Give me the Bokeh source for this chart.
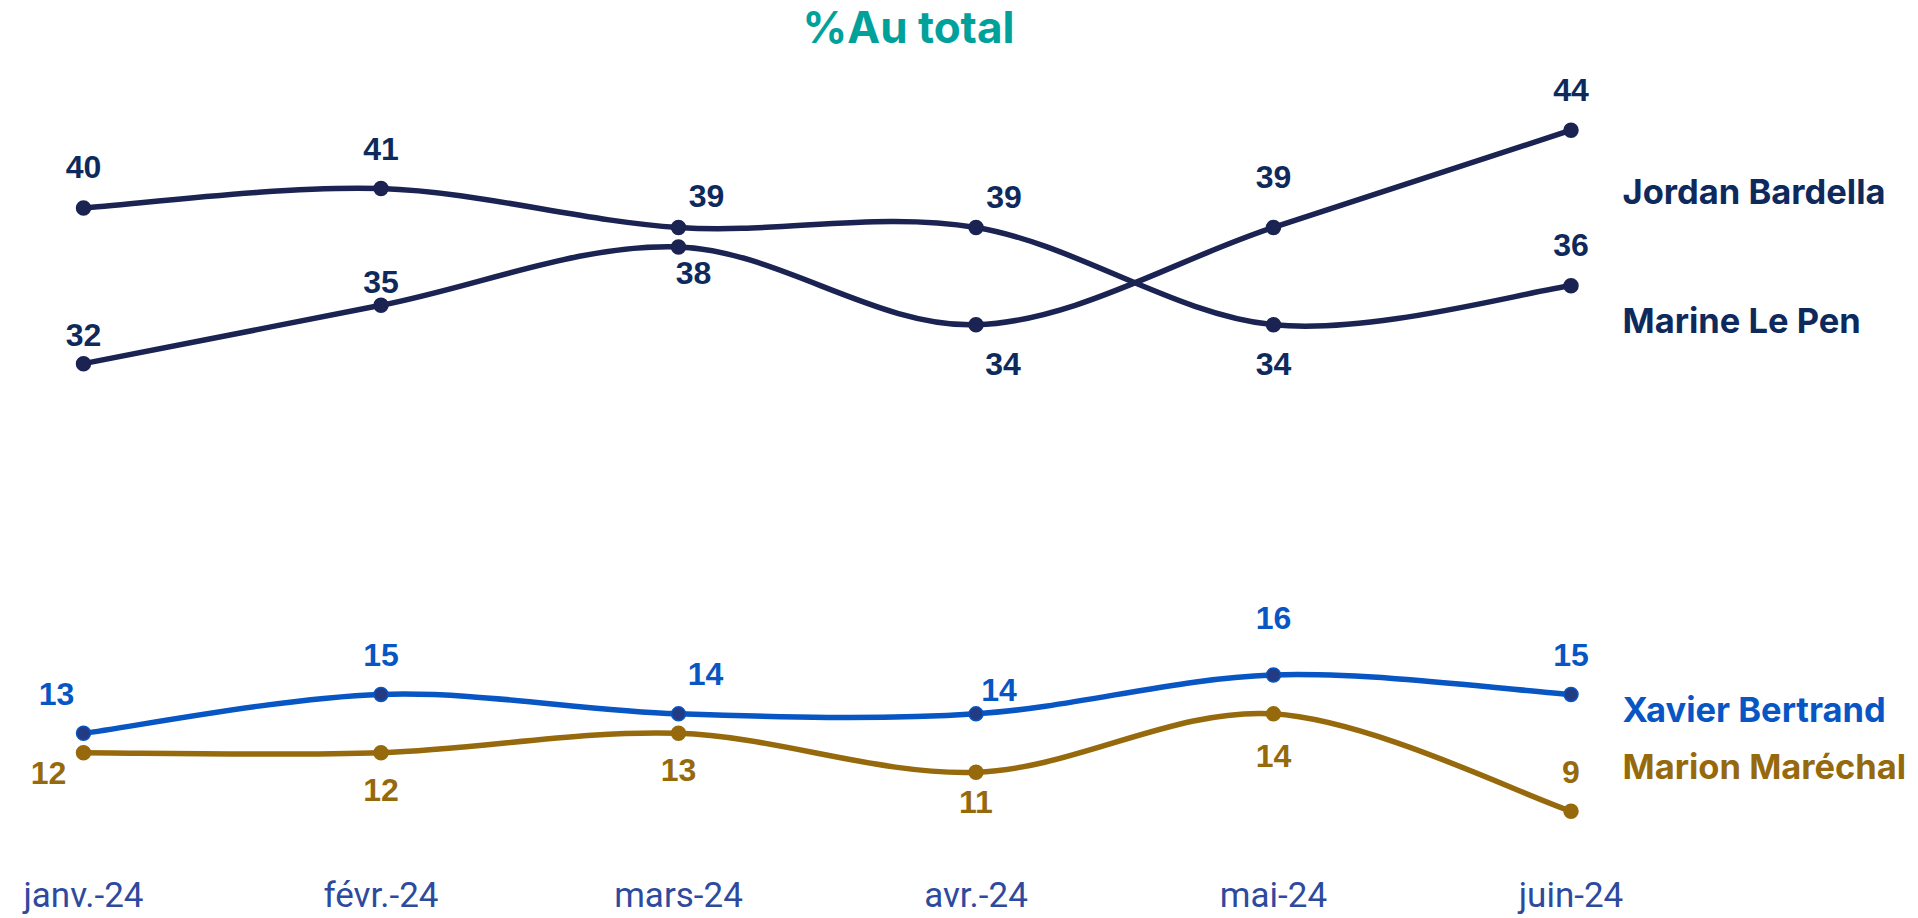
from bokeh.plotting import figure
from bokeh.models import ColumnDataSource, Label, FixedTicker, Range1d
from bokeh.core.properties import value
from bokeh.embed import file_html
from bokeh.resources import INLINE

# ---------------- data ----------------
months = ["janv.-24", "févr.-24", "mars-24", "avr.-24", "mai-24", "juin-24"]
bardella = [32, 35, 38, 34, 39, 44]
le_pen = [40, 41, 39, 39, 34, 36]
bertrand = [13, 15, 14, 14, 16, 15]
marechal = [12, 12, 13, 11, 14, 9]
series_names = ["Jordan Bardella", "Marine Le Pen", "Xavier Bertrand", "Marion Maréchal"]
title_text = "%Au total"

# ---------------- styles / label placement ----------------
NAVY = "#1B2352"
NAVY_TXT = "#0E2A5C"
BLUE = "#0756C4"
BLUE_MK = "#233B82"
GOLD = "#966A0C"
TEAL = "#00A19B"
TICK = "#2E4A9E"

# per-point label offsets in screen pixels (dx, dy; dy positive = down)
off_bardella = [(0, -29), (0, -23), (15, 26), (27, 39), (0, -50), (0, -40)]
off_le_pen = [(0, -41), (0, -40), (28, -31), (28, -30), (0, 39), (0, -41)]
off_bertrand = [(-27, -39), (0, -39), (27, -40), (23, -24), (0, -57), (0, -39)]
off_marechal = [(-35, 20), (0, 37), (0, 37), (0, 30), (0, 42), (0, -39)]

W, H = 1918, 918
BORDER_B = 42
x0_px, dx_px = 83, 297.5            # first category position, spacing
y44_px, unit_px = 130, 19.5         # screen y of value 44, px per unit
frame_h = H - BORDER_B
x_start = -x0_px / dx_px
x_end = x_start + W / dx_px
y_end = 44 + y44_px / unit_px
y_start = y_end - frame_h / unit_px

p = figure(width=W, height=H, output_backend="svg", toolbar_location=None,
           x_range=Range1d(x_start, x_end), y_range=Range1d(y_start, y_end),
           y_axis_location=None, x_axis_location="below",
           min_border_left=0, min_border_right=0, min_border_top=0,
           min_border_bottom=BORDER_B, outline_line_color=None,
           background_fill_color="white", border_fill_color="white")
p.xgrid.visible = False
p.ygrid.visible = False

xs = list(range(len(months)))


def smooth_source(ys):
    n = len(ys)
    d = dict(x0=[], y0=[], x1=[], y1=[], cx0=[], cy0=[], cx1=[], cy1=[])
    for i in range(n - 1):
        im1 = max(i - 1, 0)
        ip2 = min(i + 2, n - 1)
        d["x0"].append(xs[i]); d["y0"].append(ys[i])
        d["x1"].append(xs[i + 1]); d["y1"].append(ys[i + 1])
        d["cx0"].append(xs[i] + (xs[i + 1] - xs[im1]) / 6)
        d["cy0"].append(ys[i] + (ys[i + 1] - ys[im1]) / 6)
        d["cx1"].append(xs[i + 1] - (xs[ip2] - xs[i]) / 6)
        d["cy1"].append(ys[i + 1] - (ys[ip2] - ys[i]) / 6)
    return ColumnDataSource(d)


series = [
    (bardella, NAVY, NAVY, NAVY, NAVY_TXT, off_bardella),
    (le_pen, NAVY, NAVY, NAVY, NAVY_TXT, off_le_pen),
    (bertrand, BLUE, BLUE_MK, BLUE, BLUE, off_bertrand),
    (marechal, GOLD, GOLD, GOLD, GOLD, off_marechal),
]

for ys, lc, mfill, mline, tc, offs in series:
    p.bezier(x0="x0", y0="y0", x1="x1", y1="y1", cx0="cx0", cy0="cy0",
             cx1="cx1", cy1="cy1", source=smooth_source(ys),
             line_color=lc, line_width=5.5, line_cap="round")

for ys, lc, mfill, mline, tc, offs in series:
    p.scatter(xs, ys, size=14, fill_color=mfill, line_color=mline, line_width=1.5)

for ys, lc, mfill, mline, tc, offs in series:
    src = ColumnDataSource(dict(x=xs, y=ys, t=[str(v) for v in ys],
                                dx=[o[0] for o in offs], dy=[o[1] for o in offs]))
    p.text(x="x", y="y", text="t", x_offset="dx", y_offset="dy", source=src,
           text_color=tc, text_font=value("Liberation Sans"), text_font_style="bold",
           text_font_size="32px", text_align="center", text_baseline="middle")

# series names (right side), vertical centres in screen px
name_colors = [NAVY_TXT, NAVY_TXT, BLUE, GOLD]
name_centres_px = [193, 322, 711, 768]
frame_bottom = frame_h
for nm, col, cy in zip(series_names, name_colors, name_centres_px):
    p.add_layout(Label(x=xs[-1], x_units="data", x_offset=1622 - 1570.5,
                       y=frame_bottom - cy, y_units="screen",
                       text=nm, text_color=col, text_font="Inter",
                       text_font_style="bold", text_font_size="34.5px",
                       text_align="left", text_baseline="middle"))

# title
p.add_layout(Label(x=908, y=frame_bottom - 28, x_units="screen", y_units="screen",
                   text=title_text, text_color=TEAL, text_font="Inter",
                   text_font_style="bold", text_font_size="44px",
                   text_align="center", text_baseline="middle"))

# x axis
ax = p.xaxis[0]
ax.ticker = FixedTicker(ticks=xs)
ax.major_label_overrides = {i: m for i, m in enumerate(months)}
ax.axis_line_color = None
ax.major_tick_line_color = None
ax.minor_tick_line_color = None
ax.major_tick_out = 0
ax.major_tick_in = 0
ax.major_label_standoff = 0
ax.major_label_text_font = "Roboto"
ax.major_label_text_font_size = "35px"
ax.major_label_text_color = TICK

open("out.html", "w").write(file_html(p, INLINE))
